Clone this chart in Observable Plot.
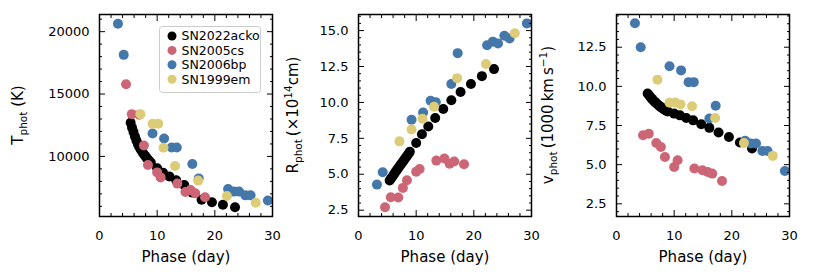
<!DOCTYPE html>
<html><head><meta charset="utf-8">
<script src="https://cdn.jsdelivr.net/npm/d3@7"></script>
<script src="https://cdn.jsdelivr.net/npm/@observablehq/plot@0.6"></script>
<style>
html,body{margin:0;padding:0;background:#fff;}
#chart{position:relative;width:830px;height:277px;overflow:hidden;background:#fff;}
#chart svg{position:absolute;left:0;top:0;}
</style></head><body><div id="chart"></div>
<script>
// ---- data ----
const seriesNames = ["SN2022acko", "SN2005cs", "SN2006bp", "SN1999em"];
const seriesColors = ["#000000", "#CC6677", "#4477AA", "#DDCC77"];

const ackoPhase = [5.40,5.65,5.90,6.15,6.40,6.65,6.90,7.15,7.40,7.65,7.90,8.15,8.40,8.65,8.90,10.0,11.0,12.1,13.3,14.7,16.1,17.7,19.5,21.4,23.5];
const ackoT = [12700,12300,11950,11600,11280,11000,10750,10550,10370,10200,10050,9900,9760,9630,9500,9050,8700,8400,8080,7700,7100,6530,6320,6120,5920];
const ackoR = [4.56,4.70,4.85,5.00,5.15,5.29,5.43,5.57,5.71,5.85,5.99,6.13,6.27,6.41,6.56,7.18,7.78,8.32,8.92,9.54,10.15,10.73,11.28,11.83,12.32];
const ackoV = [9.55,9.43,9.31,9.20,9.10,9.01,8.92,8.84,8.76,8.69,8.62,8.56,8.50,8.45,8.40,8.26,8.15,7.98,7.83,7.58,7.35,7.05,6.77,6.42,6.04];

const csPhase = [4.6,5.6,6.9,7.7,8.4,10.0,10.6,13.5,14.9,15.8,16.6,18.3];
const csT = [15790,13390,13350,10880,9310,8720,8320,7820,7150,7300,7050,6720];
const csR = [2.70,3.40,3.38,4.05,4.58,5.17,5.37,5.95,6.10,5.74,5.89,5.70];
const csV = [6.88,6.98,6.38,6.13,5.49,4.85,5.28,4.75,4.64,4.53,4.43,3.96];

const bpPhase = [3.2,4.2,9.2,11.2,12.5,13.4,16.1,17.2,22.3,23.3,24.2,25.3,26.2,29.2];
const bpT = [20640,18140,11840,11440,10720,10720,9390,8240,7390,7180,7180,6880,6880,6460];
const bpR = [4.28,5.14,8.80,9.30,10.12,10.02,11.28,13.43,13.98,14.23,14.10,14.64,14.45,15.50];
const bpV = [14.03,12.50,11.28,11.02,10.27,10.27,7.95,8.76,6.53,6.35,6.35,5.87,5.87,4.60];

const emPhase = [7.1,9.2,10.2,11.1,13.1,17.1,22.1,27.1];
const emT = [13390,12620,12620,10700,9230,8060,6830,6290];
const emR = [7.29,8.12,null,8.87,9.70,11.69,12.67,14.82];
const emV = [10.43,8.95,8.97,8.85,8.73,7.98,6.38,5.56];

const xMajor = [0,10,20,30];
const xMinor = [2,4,6,8,12,14,16,18,22,24,26,28];
const tMajor = [10000,15000,20000];
const tMinor = [6000,7000,8000,9000,11000,12000,13000,14000,16000,17000,18000,19000,21000];
const rMajor = [2.5,5.0,7.5,10.0,12.5,15.0];
const rMinor = [3,3.5,4,4.5,5.5,6,6.5,7,8,8.5,9,9.5,10.5,11,11.5,12,13,13.5,14,14.5,15.5,16];
const vMajor = [2.5,5.0,7.5,10.0,12.5];
const vMinor = [2,3,3.5,4,4.5,5.5,6,6.5,7,8,8.5,9,9.5,10.5,11,11.5,12,13,13.5,14,14.5];

// ---- drawing ----
const FONT = "DejaVu Sans, sans-serif";
const W = 830, H = 277, TOP = 14, BOTTOM = 216;
const chart = document.getElementById("chart");

function rows(phase, vals) {
  return phase.map((p, i) => ({x: p, y: vals[i]})).filter(d => d.y != null);
}

function panel({left, right, ydomain, yMajor, yMinor, yFormat, data, yPad}) {
  const blank = () => "";
  const svg = Plot.plot({
    width: W, height: H,
    marginLeft: left, marginRight: W - right, marginTop: TOP, marginBottom: H - BOTTOM,
    style: {fontFamily: FONT, fontSize: "13px", color: "#000", background: "transparent", overflow: "visible"},
    x: {domain: [0, 30]},
    y: {domain: ydomain},
    marks: [
      ...data.map((vals, k) => Plot.dot(vals, {x: "x", y: "y", r: 5, fill: seriesColors[k], stroke: null, fillOpacity: 1})),
      Plot.axisX({ticks: xMajor, tickSize: -6, tickPadding: 20, tickFormat: d => String(d), label: null, fontSize: 13}),
      Plot.axisX({ticks: xMinor, tickSize: -3, tickFormat: blank, label: null}),
      Plot.axisX({anchor: "top", ticks: xMajor, tickSize: -6, tickFormat: blank, label: null}),
      Plot.axisX({anchor: "top", ticks: xMinor, tickSize: -3, tickFormat: blank, label: null}),
      Plot.axisY({ticks: yMajor, tickSize: -6, tickPadding: yPad, tickFormat: yFormat, label: null, fontSize: 13}),
      Plot.axisY({ticks: yMinor, tickSize: -3, tickFormat: blank, label: null}),
      Plot.axisY({anchor: "right", ticks: yMajor, tickSize: -6, tickFormat: blank, label: null}),
      Plot.axisY({anchor: "right", ticks: yMinor, tickSize: -3, tickFormat: blank, label: null}),
      Plot.frame({stroke: "#000", strokeWidth: 1.5}),
      Plot.text(["Phase (day)"], {frameAnchor: "bottom", dy: 45, fontSize: 15, fill: "#000"})
    ]
  });
  chart.appendChild(svg);
  return svg;
}

function yLabel(svg, x, parts) {
  const t = d3.select(svg).append("text")
    .attr("transform", `translate(${x},${(TOP + BOTTOM) / 2}) rotate(-90)`)
    .attr("text-anchor", "middle")
    .attr("font-family", FONT)
    .attr("font-size", 15)
    .attr("fill", "#000")
    .attr("dy", "0.35em");
  let shift = 0;
  for (const [str, kind] of parts) {
    const s = t.append("tspan").text(str);
    let target = 0;
    if (kind === "sub") target = 4;
    else if (kind === "sup") target = -6;
    s.attr("dy", target - shift).attr("font-size", kind ? 10.5 : 15);
    shift = target;
  }
}

const fmt1 = d => d.toFixed(1);

const p1 = panel({left: 99, right: 272, ydomain: [5184, 21376], yMajor: tMajor, yMinor: tMinor, yFormat: d => String(d), yPad: 16,
  data: [rows(ackoPhase, ackoT), rows(csPhase, csT), rows(bpPhase, bpT), rows(emPhase, emT)]});
const p2 = panel({left: 358, right: 531, ydomain: [2.06, 16.12], yMajor: rMajor, yMinor: rMinor, yFormat: fmt1, yPad: 16,
  data: [rows(ackoPhase, ackoR), rows(csPhase, csR), rows(bpPhase, bpR), rows(emPhase, emR)]});
const p3 = panel({left: 616, right: 789, ydomain: [1.69, 14.59], yMajor: vMajor, yMinor: vMinor, yFormat: fmt1, yPad: 16,
  data: [rows(ackoPhase, ackoV), rows(csPhase, csV), rows(bpPhase, bpV), rows(emPhase, emV)]});

yLabel(p1, 23, [["T"], ["phot", "sub"], [" (K)"]]);
yLabel(p2, 298, [["R"], ["phot", "sub"], ["\u2009(\u00d710"], ["14", "sup"], ["cm)"]]);
yLabel(p3, 553, [["v"], ["phot", "sub"], ["\u2009(1000\u2009km\u2009s"], ["\u22121", "sup"], [")"]]);

// legend (inside first panel)
const lg = d3.select(p1).append("g");
lg.append("rect").attr("x", 159.5).attr("y", 26.5).attr("width", 101).attr("height", 66).attr("rx", 3)
  .attr("fill", "#fff").attr("fill-opacity", 0.8).attr("stroke", "#cccccc").attr("stroke-width", 1);
seriesNames.forEach((name, i) => {
  const cy = 36 + i * 14.4;
  lg.append("circle").attr("cx", 172).attr("cy", cy).attr("r", 4.5).attr("fill", seriesColors[i]);
  lg.append("text").attr("x", 181.5).attr("y", cy).attr("dy", "0.35em").attr("font-family", FONT)
    .attr("text-anchor", "start")
    .attr("font-size", 12.5).attr("fill", "#000").text(name);
});
</script>
</body></html>
